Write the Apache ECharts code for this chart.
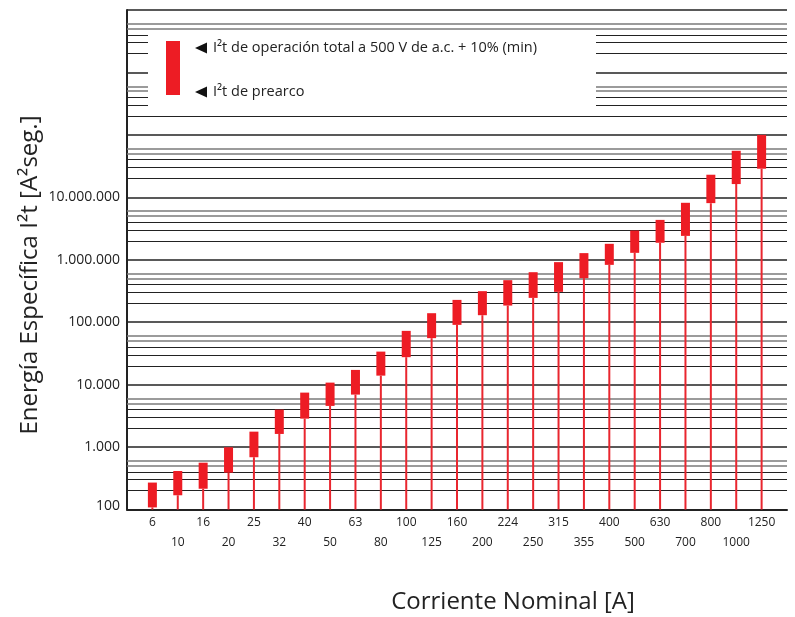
<!DOCTYPE html>
<html><head><meta charset="utf-8">
<script src="https://cdn.jsdelivr.net/npm/echarts@6/dist/echarts.min.js"></script>
<style>html,body{margin:0;padding:0;background:#fff}#c{width:795px;height:617px}</style>
</head><body><div id="c"></div>
<script>
// Corriente nominal [A]
const categories = ['6','10','16','20','25','32','40','50','63','80','100','125','160','200','224','250','315','355','400','500','630','700','800','1000','1250'];
// I²t de prearco (bottom of each bar)
const prearco = [108,169,215,389,687,1622,2851,4560,6921,13930,27500,55500,90600,129400,184600,245000,306000,507000,828000,1290000,1870000,2410000,8070000,16300000,28700000];
// I²t de operación total (top of each bar)
const total = [270,414,562,993,1766,3980,7450,10770,17200,33800,72600,139300,227600,314000,471000,632000,916000,1277000,1800000,2940000,4350000,8170000,23000000,55600000,100000000];
// y tick labels (decades 10^2 .. 10^7)
const yTickLabels = ['100','1.000','10.000','100.000','1.000.000','10.000.000'];
// minor grid lines (values)
const minorGridDark = [200,300,400,2e3,3e3,4e3,2e4,3e4,4e4,2e5,3e5,4e5,2e6,3e6,4e6,2e7,3e7,4e7,2e8,3e8,4e8,2e9,3e9,4e9];
const minorGridGray = [500,600,5e3,6e3,5e4,6e4,5e5,6e5,5e6,6e6,5e7,6e7,5e8,6e8,5e9,6e9];

const yMin = 100, yMax = 1e10;
const FONT = '"Open Sans", "Noto Sans", sans-serif';
const chart = echarts.init(document.getElementById('c'), null, {renderer:'canvas'});

const gridLines = minorGridDark.map(v => ({yAxis: v, lineStyle:{color:'#222', width:1, type:'solid'}}))
  .concat(minorGridGray.map(v => ({yAxis: v, lineStyle:{color:'#7a7a7a', width:1.5, type:'solid'}})));

chart.setOption({
  animation: false,
  backgroundColor: '#fff',
  grid: {left: 127, right: 8, top: 10, bottom: 107.5, containLabel: false},
  xAxis: {
    type: 'value', min: -1, max: 25, interval: 1,
    axisLine: {show: true, onZero: false, lineStyle: {color: '#222', width: 2}},
    axisTick: {show: false},
    splitLine: {show: false},
    axisLabel: {
      fontFamily: FONT, fontSize: 12, color: '#222', margin: 3, lineHeight: 20,
      formatter: v => { const i = Math.round(v); if (i < 0 || i >= categories.length) return ''; return i % 2 ? '\n' + categories[i] : categories[i]; }
    }
  },
  yAxis: {
    type: 'log', logBase: 10, min: yMin, max: yMax,
    axisLine: {show: true, onZero: false, lineStyle: {color: '#222', width: 2}},
    axisTick: {show: false},
    splitLine: {show: true, lineStyle: {color: '#222', width: 1.6}},
    axisLabel: {
      fontFamily: FONT, fontSize: 14, color: '#222', margin: 7,
      rich: {low: {fontFamily: FONT, fontSize: 14, color: '#222', padding: [0, 0, 6, 0]}},
      formatter: v => { const k = Math.round(Math.log10(v)) - 2; if (k === 0) return '{low|' + yTickLabels[0] + '}'; return (k > 0 && k < yTickLabels.length) ? yTickLabels[k] : ''; }
    }
  },
  series: [
    {
      type: 'line', data: [], z: 1, silent: true,
      markLine: {silent: true, symbol: ['none','none'], label: {show: false}, animation: false, data: gridLines}
    },
    {
      type: 'custom', z: 5,
      data: categories.map((c, i) => [i, prearco[i], total[i]]),
      encode: {x: 0, y: [1, 2]},
      renderItem: (params, api) => {
        const i = api.value(0);
        const base = api.coord([i, yMin]);
        const pLo = api.coord([i, api.value(1)]);
        const pHi = api.coord([i, api.value(2)]);
        const w = 9;
        return {type: 'group', children: [
          {type: 'line', shape: {x1: base[0], y1: base[1], x2: pLo[0], y2: pLo[1]}, style: {stroke: '#e9262f', lineWidth: 2}},
          {type: 'rect', shape: {x: pHi[0] - w / 2, y: pHi[1], width: w, height: pLo[1] - pHi[1]}, style: {fill: '#ed1c24'}}
        ]};
      }
    }
  ],
  graphic: [
    {type: 'rect', z: 10, shape: {x: 148, y: 30, width: 448, height: 81}, style: {fill: '#fff'}},
    {type: 'rect', z: 11, shape: {x: 166, y: 41, width: 14, height: 54}, style: {fill: '#ed1c24'}},
    {type: 'polygon', z: 11, shape: {points: [[195, 48], [207, 42.5], [207, 53.5]]}, style: {fill: '#111'}},
    {type: 'polygon', z: 11, shape: {points: [[195, 92], [207, 86.5], [207, 97.5]]}, style: {fill: '#111'}},
    {type: 'text', z: 11, x: 213, y: 48, style: {text: 'I²t de operación total a 500 V de a.c. + 10% (min)', fontFamily: FONT, fontSize: 14.5, fill: '#222', verticalAlign: 'middle'}},
    {type: 'text', z: 11, x: 213, y: 92, style: {text: 'I²t de prearco', fontFamily: FONT, fontSize: 14.5, fill: '#222', verticalAlign: 'middle'}},
    {type: 'text', z: 11, x: 30, y: 275, rotation: Math.PI / 2, style: {text: 'Energía Específica I²t [A²seg.]', fontFamily: FONT, fontSize: 24, fill: '#222', align: 'center', verticalAlign: 'middle'}},
    {type: 'text', z: 11, x: 513, y: 602, style: {text: 'Corriente Nominal [A]', fontFamily: FONT, fontSize: 24, fill: '#222', align: 'center', verticalAlign: 'middle'}}
  ]
});
</script>
</body></html>
